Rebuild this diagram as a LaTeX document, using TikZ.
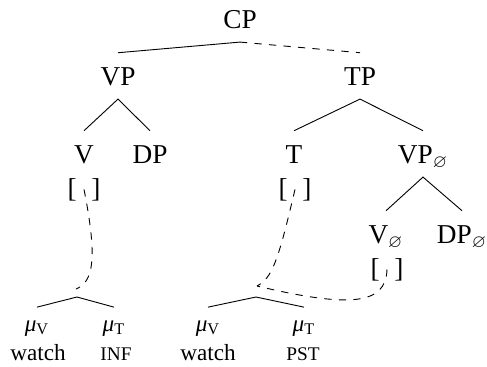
\documentclass[tikz,border=0pt]{standalone}
\usepackage{fontspec}
\setmainfont{Liberation Serif}
\usepackage{amssymb}

\begin{document}
\begin{tikzpicture}[x=0.44pt,y=0.44pt,
		cat/.style={anchor=base,font=\fontsize{12}{14}\selectfont,text height=8pt,text depth=0pt,inner ysep=6pt},
		feat/.style={anchor=base,font=\fontsize{12}{14}\selectfont},
		leaf/.style={anchor=base,font=\fontsize{10.2}{12}\selectfont,text height=5pt,text depth=0pt,inner ysep=5.3pt},
		word/.style={anchor=base,font=\fontsize{10.2}{12}\selectfont},
		link/.style={dash pattern=on 3.2pt off 3.2pt}]
		\tikzstyle{every node}+=[inner xsep=0pt]
		\useasboundingbox (0,0) rectangle (487,-366);
		\node [cat] (cp) at (240,-28) {CP};
		\node [cat] (vp) at (118,-85) {VP};
		\node [cat] (tp) at (360,-85) {TP};
		\node [cat] (v) at (84,-163) {V};
		\node [cat] (dp) at (150,-163) {DP};
		\node [cat] (t) at (294,-163) {T};
		\node [cat] (vpz) at (423,-163) {VP$_\varnothing$};
		\node [cat] (vz) at (386,-243) {V$_\varnothing$};
		\node [cat] (dpz) at (462,-243) {DP$_\varnothing$};
		\node [feat] (vbr) at (84,-197) {[\hspace{6.5pt}]};
		\node [feat] (tbr) at (295,-197) {[\hspace{6.5pt}]};
		\node [feat] (vzbr) at (387,-277) {[\hspace{6.5pt}]};
		\coordinate (m1) at (77,-297);
		\coordinate (m2) at (256,-297);
		\coordinate (j1) at (76,-289);
		\coordinate (j2) at (257,-286);
		\node [leaf] (mv1) at (37,-331) {{\itshape μ}\textsubscript{V}};
		\node [leaf] (mt1) at (114,-331) {{\itshape μ}\textsubscript{T}};
		\node [word] (w1) at (38,-360) {watch};
		\node [word,font=\fontsize{8.5}{12}\selectfont] (inf) at (116,-360) {INF};
		\node [leaf] (mv2) at (208,-331) {{\itshape μ}\textsubscript{V}};
		\node [leaf] (mt2) at (304,-331) {{\itshape μ}\textsubscript{T}};
		\node [word] (w2) at (208,-360) {watch};
		\node [word,font=\fontsize{8.5}{12}\selectfont] (pst) at (303,-360) {PST};
		\draw (cp.south) -- (vp.north);
		\draw [link] (cp.south) -- (tp.north);
		\draw (v.north) -- (vp.south) -- (dp.north);
		\draw (t.north) -- (tp.south) -- (vpz.north);
		\draw (vz.north) -- (vpz.south) -- (dpz.north);
		\draw (mv1.north) -- (m1) -- (mt1.north);
		\draw (mv2.north) -- (m2) -- (mt2.north);
		\draw [link] (vbr.center) .. controls (98,-260) and (93,-282) .. (j1);
		\draw [link] (tbr.center) .. controls (278,-262) and (272,-278) .. (j2);
		\draw [link] (vzbr.center) .. controls (386,-305) and (350,-308) .. (j2);
	\end{tikzpicture}
\end{document}
